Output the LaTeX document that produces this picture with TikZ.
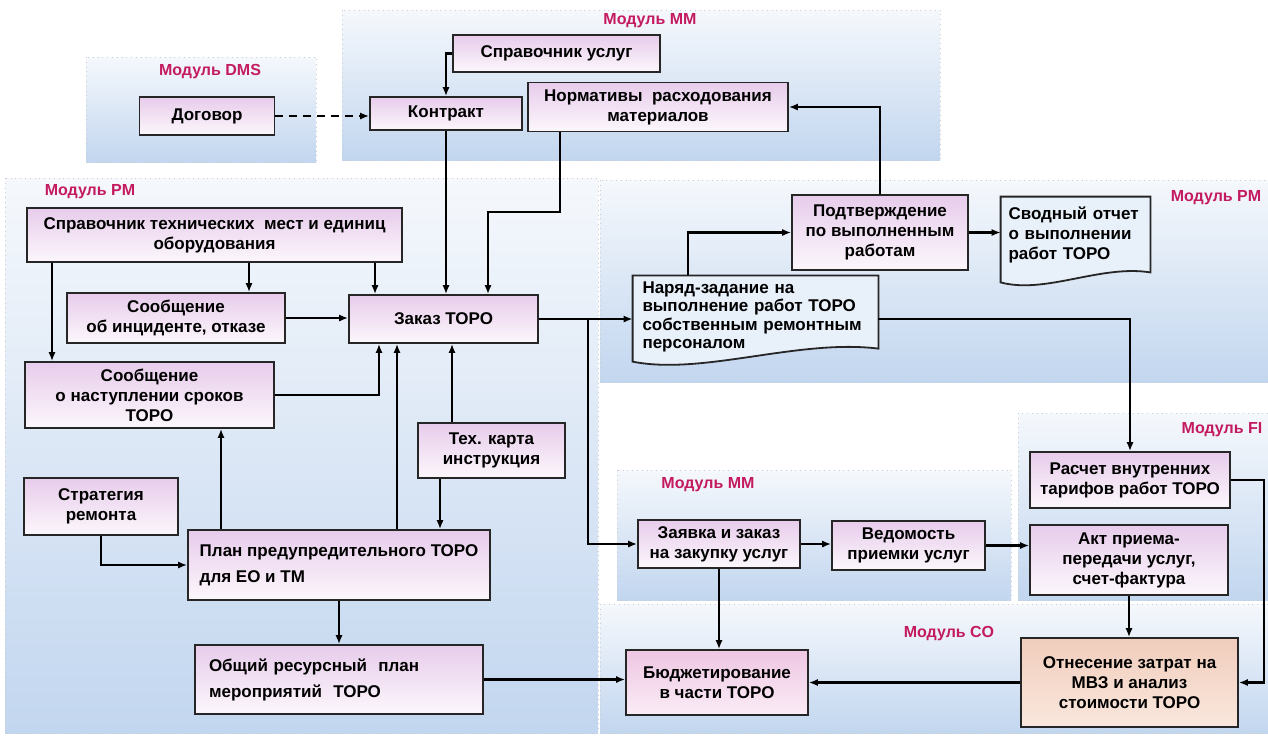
\documentclass[tikz,border=0pt]{standalone}
\usepackage{fontspec}
\setmainfont{Liberation Sans}
\usetikzlibrary{arrows.meta,positioning,calc}
\definecolor{panetop}{RGB}{245,248,252}
\definecolor{panebot}{RGB}{194,214,239}
\definecolor{boxtop}{RGB}{231,204,235}
\definecolor{boxbot}{RGB}{252,247,252}
\definecolor{budgettop}{RGB}{238,198,226}
\definecolor{budgetbot}{RGB}{250,236,246}
\definecolor{costtop}{RGB}{240,205,188}
\definecolor{costbot}{RGB}{250,231,221}
\definecolor{docfill}{RGB}{232,240,249}
\definecolor{modred}{RGB}{196,26,96}
\pgfdeclarelayer{panes}
\pgfdeclarelayer{docs}
\pgfsetlayers{panes,docs,main}

\begin{document}
\begin{tikzpicture}[x=0.5pt,y=-0.5pt,>={Latex[length=4.5pt,width=3.6pt]},
  every node/.style={font=\bfseries\fontsize{8.5}{10}\selectfont},
  box/.style={draw=black!85,line width=0.9pt,top color=boxtop,bottom color=boxbot,align=center,inner sep=2pt},
  docnode/.style={align=left,inner ysep=0pt},
  docline/.style={draw=black!85,line width=0.9pt,fill=docfill},
  link/.style={->,line width=1.1pt},
  pane/.style={top color=panetop,bottom color=panebot,draw=gray!40,dotted,line width=0.4pt},
  modlabel/.style={text=modred,font=\bfseries\fontsize{8}{9}\selectfont}]
\useasboundingbox (0,0) rectangle (1268,736);

% module areas
\begin{pgfonlayer}{panes}
\path[pane] (86,57) rectangle (316,162);
\path[pane] (342,10) rectangle (940,160);
\path[pane] (5,178) rectangle (598,733);
\path[pane] (600,180) rectangle (1268,382);
\path[pane] (617,470) rectangle (1011,600);
\path[pane] (1018,413) rectangle (1268,600);
\path[pane] (600,604) rectangle (1268,733);
\end{pgfonlayer}

\node[modlabel] (labdms) at (210,72) {Модуль DMS};
\node[modlabel] (labmmtop) at (650,21) {Модуль MM};
\node[modlabel] (labpmleft) at (90,192) {Модуль PM};
\node[modlabel] (labpmright) at (1216,198) {Модуль PM};
\node[modlabel] (labfi) at (1222,430) {Модуль FI};
\node[modlabel] (labmmbot) at (708,485) {Модуль MM};
\node[modlabel] (labco) at (949,634) {Модуль CO};

% top row
\node[box,minimum width=67.5pt,minimum height=19pt] (dogovor) at (207,116) {Договор};
\node[box,minimum width=76pt,minimum height=16.5pt] (kontrakt) at (446,113.5) {Контракт};
\node[box,minimum width=103.5pt,minimum height=18.5pt] (sprusl) at (556.5,53.5) {Справочник услуг};
\node[box,minimum width=130pt,minimum height=24.5pt] (normativy) at (658,107) {Нормативы\ \ расходования\\материалов};

% PM, left part
\node[box,minimum width=187.5pt,minimum height=27pt] (sprtech) at (214.5,235) {Справочник технических\ \ мест и единиц\\оборудования};
\node[box,minimum width=109pt,minimum height=25pt] (soobinc) at (176,318) {Сообщение\\об инциденте, отказе};
\node[box,minimum width=94.5pt,minimum height=24pt] (zakaz) at (443.5,319) {Заказ ТОРО};
\node[box,minimum width=124.5pt,minimum height=33pt] (soobsrok) at (149.5,395) {Сообщение\\о наступлении сроков\\ТОРО};
\node[box,minimum width=73.5pt,minimum height=27.5pt] (tehkarta) at (491.5,450.5) {Тех. карта\\инструкция};
\node[box,minimum width=77pt,minimum height=28.5pt] (strategia) at (101,506.5) {Стратегия\\ремонта};
\node[box,align=left,minimum width=151pt,minimum height=35pt,font=\bfseries\fontsize{8.5}{13}\selectfont] (plan) at (339,565) {План предупредительного ТОРО\\для ЕО и ТМ};
\node[box,align=left,text width=130pt,inner xsep=7pt,minimum height=34.5pt,font=\bfseries\fontsize{8.5}{13}\selectfont] (obshiy) at (339,679.5) {Общий ресурсный\ \ план\\мероприятий\ \ ТОРО};

% PM, right part
\node[box,minimum width=88pt,minimum height=37.5pt] (podtv) at (880,232.5) {Подтверждение\\по выполненным\\работам};
\node[docnode,text width=67pt,inner xsep=3.75pt,minimum height=37.5pt] (svodny) at (1075.5,234.5) {Сводный отчет\\о выполнении\\работ ТОРО};
\node[docnode,text width=113pt,inner xsep=4.75pt,font=\bfseries\fontsize{8.5}{9.2}\selectfont] (naryad) at (755.5,317) {Наряд-задание на\\выполнение работ ТОРО\\собственным ремонтным\\персоналом};
\coordinate (naryadtop) at ($(naryad.north)+(0,-6)$);

% MM, FI, CO
\node[box,minimum width=100pt,minimum height=28pt] (raschet) at (1130,480) {Расчет внутренних\\тарифов работ ТОРО};
\node[box,minimum width=81pt,minimum height=24pt] (zayavka) at (719,544) {Заявка и заказ\\на закупку услуг};
\node[box,minimum width=76.5pt,minimum height=24.5pt] (vedomost) at (908.5,545.5) {Ведомость\\приемки услуг};
\node[box,minimum width=99pt,minimum height=35pt] (akt) at (1129,560) {Акт приема-\\передачи услуг,\\счет-фактура};
\node[box,top color=budgettop,bottom color=budgetbot,minimum width=91pt,minimum height=32.5pt] (budget) at (717,682.5) {Бюджетирование\\в части ТОРО};
\node[box,top color=costtop,bottom color=costbot,minimum width=108.5pt,minimum height=44.5pt] (otnes) at (1129.5,682.5) {Отнесение затрат на\\МВЗ и анализ\\стоимости ТОРО};

% document outlines
\begin{pgfonlayer}{docs}
\path[docline] ($(naryad.north west)+(0,-6)$) -- ($(naryad.north east)+(0,-6)$) -- ($(naryad.south east)+(0,-4)$)
  .. controls +(-80,-10) and +(70,14) .. ($(naryad.south west)+(0,9)$) -- cycle;
\path[docline] (svodny.north west) -- (svodny.north east) -- (svodny.south east)
  .. controls +(-50,-8) and +(45,12) .. ($(svodny.south west)+(0,10)$) -- cycle;
\end{pgfonlayer}

% connectors
\draw[link,dash pattern=on 4pt off 3pt] (dogovor.east) -- (dogovor.east -| kontrakt.west);
\draw[link] (sprusl.west) -| (kontrakt.north);
\draw[link] (kontrakt.south) -- (kontrakt.south |- zakaz.north);
\draw[link] (560,0 |- normativy.south) |- (488,212) -- (488,0 |- zakaz.north);
\draw[link] (52,0 |- sprtech.south) -- (52,0 |- soobsrok.north);
\draw[link] (249,0 |- sprtech.south) -- (249,0 |- soobinc.north);
\draw[link] (375,0 |- sprtech.south) -- (375,0 |- zakaz.north);
\draw[link] (soobinc.east) -- (soobinc.east -| zakaz.west);
\draw[link] (soobsrok.east) -| (379,0 |- zakaz.south);
\draw[link] (221,0 |- plan.north) -- (221,0 |- soobsrok.south);
\draw[link] (397,0 |- plan.north) -- (397,0 |- zakaz.south);
\draw[link] (452,0 |- tehkarta.north) -- (452,0 |- zakaz.south);
\draw[link] (440,0 |- tehkarta.south) -- (440,0 |- plan.north);
\draw[link] (strategia.south) |- (plan.west);
\draw[link] (plan.south) -- (obshiy.north);
\draw[link] (obshiy.east) -- (obshiy.east -| budget.west);
\draw[link] (zakaz.east) -- (zakaz.east -| naryad.west);
\coordinate (fork) at (588,0 |- zakaz.east);
\draw[link] (fork) |- (zayavka.west);
\draw[link] (688,0 |- naryadtop) |- (podtv.west);
\draw[link] (podtv.east) -- (podtv.east -| svodny.west);
\draw[link] (podtv.north) |- (normativy.east);
\draw[link] (naryad.east |- zakaz.east) -| (raschet.north);
\draw[link] (zayavka.east) -- (zayavka.east -| vedomost.west);
\draw[link] (vedomost.east) -- (vedomost.east -| akt.west);
\draw[link] (akt.south) -- (akt.south |- otnes.north);
\draw[link] (zayavka.south) -- (zayavka.south |- budget.north);
\draw[link] (otnes.west) -- (otnes.west -| budget.east);
\draw[link] (raschet.east) -- (1264,0 |- raschet.east) |- (otnes.east);
\end{tikzpicture}
\end{document}
